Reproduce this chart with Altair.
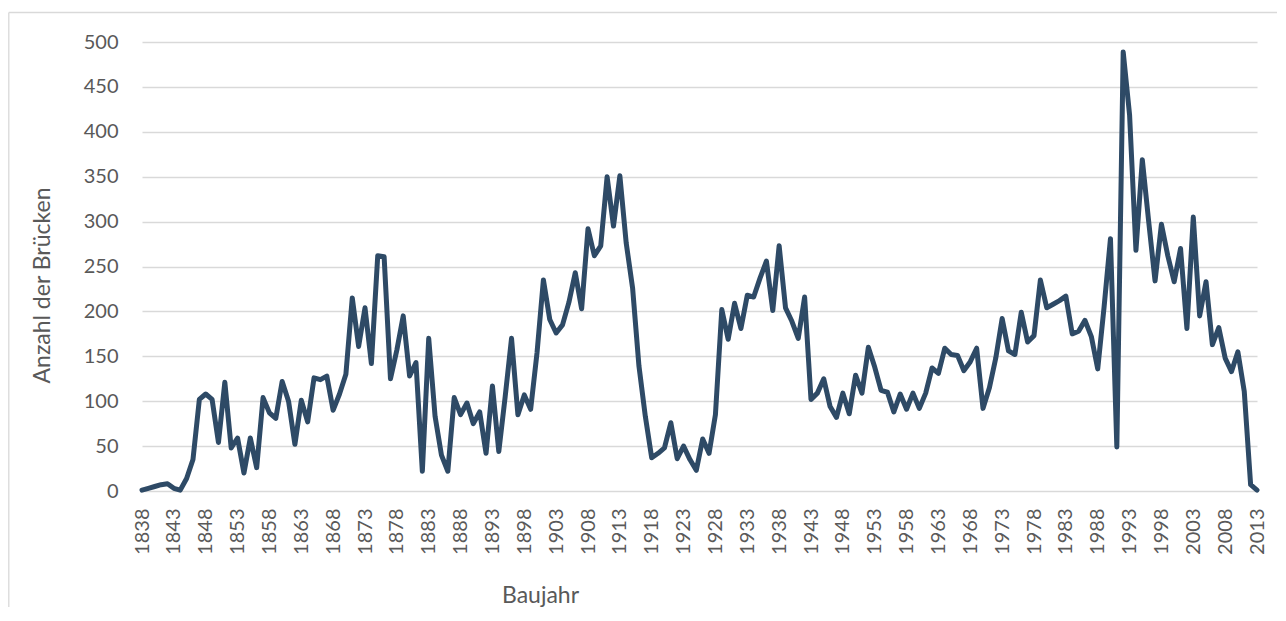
import altair as alt
import pandas as pd

years = list(range(1838, 2014))
counts = [
    1, 3, 5, 7, 8, 3, 1, 14, 35, 102,            # 1838-1847
    108, 102, 54, 121, 48, 59, 20, 59, 26, 104,  # 1848-1857
    87, 81, 122, 100, 52, 101, 77, 126, 124, 128,  # 1858-1867
    90, 108, 130, 215, 161, 204, 142, 262, 261, 125,  # 1868-1877
    157, 195, 128, 143, 22, 170, 83, 40, 22, 104,  # 1878-1887
    85, 98, 75, 88, 42, 117, 44, 105, 170, 85,   # 1888-1897
    107, 91, 154, 235, 191, 176, 185, 210, 243, 203,  # 1898-1907
    292, 262, 273, 350, 295, 351, 276, 226, 139, 83,  # 1908-1917
    37, 42, 48, 76, 36, 50, 35, 23, 58, 42,      # 1918-1927
    85, 202, 169, 209, 181, 218, 216, 237, 256, 201,  # 1928-1937
    273, 204, 189, 170, 216, 102, 109, 125, 94, 82,  # 1938-1947
    109, 86, 129, 109, 160, 138, 112, 110, 88, 108,  # 1948-1957
    91, 109, 92, 109, 137, 131, 159, 152, 151, 134,  # 1958-1967
    144, 159, 92, 115, 148, 192, 156, 152, 199, 166,  # 1968-1977
    173, 235, 204, 208, 212, 217, 175, 178, 190, 172,  # 1978-1987
    136, 205, 281, 49, 489, 419, 268, 369, 300, 234,  # 1988-1997
    297, 262, 233, 270, 181, 305, 195, 233, 163, 182,  # 1998-2007
    148, 133, 155, 111, 7, 1,                    # 2008-2013
]
x_ticks = list(range(1838, 2014, 5))
y_ticks = list(range(0, 501, 50))

df = pd.DataFrame({"Baujahr": years, "Anzahl": counts})

FONT = "Lato"
TEXT_COLOR = "#595959"
GRID = "#d9d9d9"

line = alt.Chart(df).mark_line(
    color="#2e4a66", strokeWidth=5, strokeJoin="round", strokeCap="round"
).encode(
    x=alt.X(
        "Baujahr:Q",
        scale=alt.Scale(domain=[1838, 2013], nice=False, zero=False),
        axis=alt.Axis(
            title="Baujahr",
            values=x_ticks,
            format="d",
            labelAngle=270,
            labelAlign="right",
            labelBaseline="middle",
            labelPadding=17,
            labelFont=FONT,
            labelFontSize=20,
            labelColor=TEXT_COLOR,
            labelOverlap=False,
            labelFlush=False,
            ticks=False,
            domain=False,
            grid=False,
            titleFont=FONT,
            titleFontSize=23,
            titleFontWeight="normal",
            titleColor=TEXT_COLOR,
            titleX=398,
            titleY=104,
            titleAlign="center",
            titleBaseline="middle",
        ),
    ),
    y=alt.Y(
        "Anzahl:Q",
        scale=alt.Scale(domain=[0, 500], nice=False),
        axis=alt.Axis(
            title="Anzahl der Brücken",
            values=y_ticks,
            labelFont=FONT,
            labelFontSize=20,
            labelColor=TEXT_COLOR,
            labelPadding=24,
            ticks=False,
            domain=False,
            grid=True,
            gridColor=GRID,
            gridWidth=1.3,
            titleFont=FONT,
            titleFontSize=23,
            titleFontWeight="normal",
            titleColor=TEXT_COLOR,
            titleAngle=270,
            titleX=-100,
            titleY=243,
            titleAlign="center",
            titleBaseline="middle",
        ),
    ),
)

frame_data = alt.Data(values=[{}])
frame_left = alt.Chart(frame_data).mark_rule(color=GRID, strokeWidth=1.3).encode(
    x=alt.value(-133.2), y=alt.value(-29.5), y2=alt.value(565)
)
frame_top = alt.Chart(frame_data).mark_rule(color=GRID, strokeWidth=1.3).encode(
    x=alt.value(-133.2), x2=alt.value(1135), y=alt.value(-29.5)
)

chart = alt.layer(frame_left, frame_top, line).properties(
    width=1115,
    height=449,
    autosize=alt.AutoSizeParams(type="none"),
    padding={"left": 134, "top": 34, "right": 20, "bottom": 116},
).configure_view(stroke=None)

chart.save("out.html", embed_options={"renderer": "svg", "actions": False})
